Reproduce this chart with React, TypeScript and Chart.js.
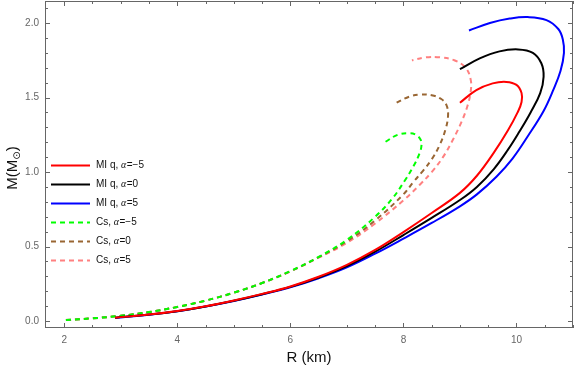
import React, { useEffect, useRef } from "react";
import { Chart, registerables } from "chart.js";
Chart.register(...registerables);

// MI q, alpha = -5 (red)
const miNeg5R = [2.9, 3.5, 4.0, 4.5, 5.0, 5.5, 6.0, 6.5, 7.0, 7.5, 8.0, 8.5, 9.0, 9.3, 9.6, 9.85, 10.02, 10.09, 10.09, 10.0, 9.82, 9.58, 9.29, 9.0];
const miNeg5M = [0.022, 0.043, 0.067, 0.099, 0.138, 0.182, 0.232, 0.297, 0.377, 0.477, 0.597, 0.725, 0.86, 0.975, 1.13, 1.28, 1.4, 1.47, 1.53, 1.585, 1.605, 1.595, 1.55, 1.465];
// MI q, alpha = 0 (black)
const mi0R = [2.9, 3.5, 4.0, 4.5, 5.0, 5.5, 6.0, 6.5, 7.0, 7.5, 8.0, 8.5, 9.0, 9.3, 9.6, 9.85, 10.05, 10.25, 10.42, 10.48, 10.44, 10.29, 10.03, 9.7, 9.35, 9.0];
const mi0M = [0.022, 0.043, 0.066, 0.098, 0.136, 0.18, 0.229, 0.292, 0.368, 0.465, 0.577, 0.692, 0.812, 0.9, 1.02, 1.15, 1.27, 1.4, 1.53, 1.64, 1.73, 1.8, 1.823, 1.81, 1.763, 1.69];
// MI q, alpha = 5 (blue)
const mi5R = [2.9, 3.5, 4.0, 4.5, 5.0, 5.5, 6.0, 6.5, 7.0, 7.5, 8.0, 8.5, 9.0, 9.3, 9.65, 9.93, 10.2, 10.48, 10.65, 10.78, 10.84, 10.82, 10.74, 10.53, 10.2, 9.88, 9.53, 9.16];
const mi5M = [0.02, 0.042, 0.065, 0.097, 0.134, 0.177, 0.226, 0.287, 0.36, 0.452, 0.553, 0.658, 0.77, 0.85, 0.97, 1.09, 1.24, 1.41, 1.55, 1.68, 1.8, 1.89, 1.96, 2.02, 2.04, 2.03, 2.0, 1.95];
// Cs, alpha = -5 (green)
const csNeg5R = [2.03, 2.5, 3.0, 3.5, 4.0, 4.5, 5.0, 5.5, 6.0, 6.5, 7.0, 7.5, 7.8, 8.02, 8.18, 8.28, 8.32, 8.3, 8.22, 8.1, 7.9, 7.67];
const csNeg5M = [0.007, 0.018, 0.035, 0.06, 0.094, 0.137, 0.19, 0.255, 0.335, 0.43, 0.545, 0.7, 0.82, 0.94, 1.04, 1.12, 1.18, 1.22, 1.25, 1.26, 1.25, 1.2];
// Cs, alpha = 0 (brown)
const cs0R = [2.03, 2.5, 3.0, 3.5, 4.0, 4.5, 5.0, 5.5, 6.0, 6.5, 7.0, 7.5, 8.0, 8.17, 8.35, 8.5, 8.64, 8.74, 8.79, 8.76, 8.67, 8.5, 8.3, 8.1, 7.85];
const cs0M = [0.007, 0.018, 0.035, 0.06, 0.094, 0.137, 0.19, 0.255, 0.334, 0.428, 0.535, 0.675, 0.85, 0.93, 1.01, 1.085, 1.18, 1.28, 1.38, 1.45, 1.49, 1.515, 1.52, 1.505, 1.46];
// Cs, alpha = 5 (pink)
const cs5R = [2.03, 2.5, 3.0, 3.5, 4.0, 4.5, 5.0, 5.5, 6.0, 6.5, 7.0, 7.5, 8.0, 8.29, 8.5, 8.7, 8.88, 9.02, 9.13, 9.19, 9.19, 9.1, 8.9, 8.64, 8.4, 8.15];
const cs5M = [0.007, 0.018, 0.035, 0.06, 0.094, 0.137, 0.19, 0.254, 0.333, 0.425, 0.525, 0.655, 0.81, 0.915, 1.0, 1.1, 1.22, 1.33, 1.44, 1.54, 1.62, 1.7, 1.75, 1.77, 1.77, 1.75];

const xTicks = [2, 4, 6, 8, 10];
const yTicks = [0, 0.5, 1, 1.5, 2];
const legendPrefix = ["MI q, ", "MI q, ", "MI q, ", "Cs, ", "Cs, ", "Cs, "];
const legendAlpha = ["−5", "0", "5", "−5", "0", "5"];

const seriesR = [miNeg5R, mi0R, mi5R, csNeg5R, cs0R, cs5R];
const seriesM = [miNeg5M, mi0M, mi5M, csNeg5M, cs0M, cs5M];
const colors = ["#ff0000", "#000000", "#0000ff", "#00ff00", "#996633", "#ff8080"];
const dashed = [false, false, false, true, true, true];

const AXIS = "#666666";

const framePlugin = {
  id: "frame",
  afterDraw(chart: any) {
    const { ctx, chartArea: a, scales } = chart;
    const xs = scales.x, ys = scales.y;
    ctx.save();
    ctx.strokeStyle = AXIS;
    ctx.lineWidth = 1;
    ctx.strokeRect(a.left + 0.5, a.top + 0.5, a.right - a.left - 1, a.bottom - a.top - 1);
    for (let i = 3; i <= 22; i++) {
      const v = i / 2;
      if (v < xs.min || v > xs.max) continue;
      const px = Math.round(xs.getPixelForValue(v)) + 0.5;
      const len = i % 4 === 0 ? 5 : 3;
      ctx.beginPath();
      ctx.moveTo(px, a.bottom);
      ctx.lineTo(px, a.bottom - len);
      ctx.moveTo(px, a.top);
      ctx.lineTo(px, a.top + len);
      ctx.stroke();
    }
    for (let i = 0; i <= 21; i++) {
      const v = i / 10;
      if (v < ys.min || v > ys.max) continue;
      const py = Math.round(ys.getPixelForValue(v)) + 0.5;
      const len = i % 5 === 0 ? 5 : 3;
      ctx.beginPath();
      ctx.moveTo(a.left, py);
      ctx.lineTo(a.left + len, py);
      ctx.moveTo(a.right, py);
      ctx.lineTo(a.right - len, py);
      ctx.stroke();
    }
    // axis titles
    ctx.fillStyle = "#111";
    ctx.font = "15px 'Liberation Sans', Arial, sans-serif";
    ctx.textBaseline = "alphabetic";
    ctx.textAlign = "center";
    ctx.fillText("R (km)", (a.left + a.right) / 2, 362);
    ctx.save();
    ctx.translate(17, 168);
    ctx.rotate(-Math.PI / 2);
    ctx.textAlign = "left";
    const p1 = "M(M";
    const p2 = "⊙";
    const p3 = ")";
    ctx.font = "15px 'Liberation Sans', Arial, sans-serif";
    const w1 = ctx.measureText(p1).width;
    const w3 = ctx.measureText(p3).width;
    ctx.font = "10px 'DejaVu Sans', sans-serif";
    const w2 = ctx.measureText(p2).width;
    const total = w1 + w2 + w3;
    const x0 = -total / 2;
    ctx.font = "15px 'Liberation Sans', Arial, sans-serif";
    ctx.fillText(p1, x0, 0);
    ctx.font = "10px 'DejaVu Sans', sans-serif";
    ctx.fillText(p2, x0 + w1, 3);
    ctx.font = "15px 'Liberation Sans', Arial, sans-serif";
    ctx.fillText(p3, x0 + w1 + w2, 0);
    ctx.restore();
    // legend
    const rows = [165, 184, 203, 222, 241, 260];
    for (let i = 0; i < rows.length; i++) {
      const y = rows[i] + 0.5;
      ctx.save();
      ctx.strokeStyle = colors[i];
      ctx.lineWidth = 2;
      ctx.setLineDash(dashed[i] ? [5, 4] : []);
      ctx.beginPath();
      ctx.moveTo(51, y);
      ctx.lineTo(90, y);
      ctx.stroke();
      ctx.restore();
      ctx.fillStyle = "#111";
      ctx.textAlign = "left";
      ctx.textBaseline = "middle";
      let tx = 96;
      ctx.font = "10px 'Liberation Sans', Arial, sans-serif";
      ctx.fillText(legendPrefix[i], tx, y);
      tx += ctx.measureText(legendPrefix[i]).width;
      ctx.font = "italic 10px 'Liberation Serif', serif";
      ctx.fillText("α", tx, y);
      tx += ctx.measureText("α").width + 0.5;
      ctx.font = "10px 'Liberation Sans', Arial, sans-serif";
      ctx.fillText("=" + legendAlpha[i], tx, y);
    }
    ctx.restore();
  },
};

const zeroPad = (s: any) => {
  s.paddingTop = 0;
  s.paddingBottom = 0;
  s.paddingLeft = 0;
  s.paddingRight = 0;
};

export default function App() {
  const ref = useRef<HTMLCanvasElement | null>(null);
  useEffect(() => {
    if (!ref.current) return;
    const datasets = seriesR.map((rs, i) => ({
      label: legendPrefix[i] + "α=" + legendAlpha[i],
      data: rs.map((r, j) => ({ x: r, y: seriesM[i][j] })),
      borderColor: colors[i],
      backgroundColor: colors[i],
      borderWidth: 2,
      borderDash: dashed[i] ? [5, 4] : [],
      pointRadius: 0,
      showLine: true,
      fill: false,
      tension: 0.4,
    }));
    const chart = new Chart(ref.current, {
      type: "scatter",
      data: { datasets },
      plugins: [framePlugin],
      options: {
        animation: false,
        responsive: false,
        maintainAspectRatio: false,
        layout: { padding: { top: 1, right: 3, left: 0, bottom: 0 } },
        plugins: { legend: { display: false }, tooltip: { enabled: false } },
        scales: {
          x: {
            type: "linear",
            min: 1.66,
            max: 11.0,
            afterBuildTicks: (s: any) => { s.ticks = xTicks.map((v) => ({ value: v })); },
            afterFit: (s: any) => { s.height = 43; zeroPad(s); },
            grid: { display: true, drawOnChartArea: false, drawTicks: false },
            border: { display: false },
            ticks: {
              padding: 6,
              color: AXIS,
              font: { family: "'Liberation Sans', Arial, sans-serif", size: 10 },
              callback: (v: any) => String(v),
              maxRotation: 0,
            },
          },
          y: {
            type: "linear",
            min: -0.047,
            max: 2.148,
            afterBuildTicks: (s: any) => { s.ticks = yTicks.map((v) => ({ value: v })); },
            afterFit: (s: any) => { s.width = 45; zeroPad(s); },
            grid: { display: true, drawOnChartArea: false, drawTicks: false },
            border: { display: false },
            ticks: {
              padding: 6,
              color: AXIS,
              font: { family: "'Liberation Sans', Arial, sans-serif", size: 10 },
              callback: (v: any) => Number(v).toFixed(1),
            },
          },
        },
      },
    } as any);
    return () => chart.destroy();
  }, []);
  return (
    <div style={{ position: "absolute", left: 0, top: 0, width: 576, height: 371, background: "#fff" }}>
      <canvas ref={ref} width={576} height={371} style={{ width: 576, height: 371, display: "block" }} />
    </div>
  );
}
